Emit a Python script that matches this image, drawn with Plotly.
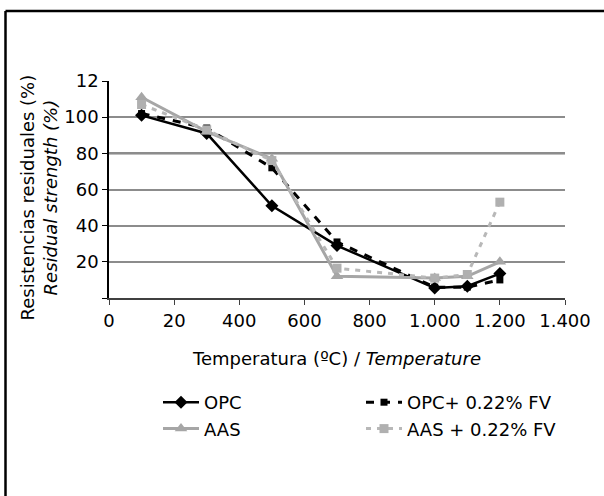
import plotly.graph_objects as go

temps = [100, 300, 500, 700, 1000, 1100, 1200]
opc = [101, 91, 51, 29, 5.5, 6.5, 13.5]
opc_fv = [102, 94, 72, 31, 6, 6, 10]
aas = [111, 92, 77, 12, 11, 12, 20]
aas_fv = [107, 93, 76, 16.5, 11, 13, 53]

x_tickvals = [0, 200, 400, 600, 800, 1000, 1200, 1400]
x_ticktext = ["0", "20", "400", "600", "800", "1.000", "1.200", "1.400"]
y_tickvals = [0, 20, 40, 60, 80, 100, 120]
y_ticktext = ["", "20", "40", "60", "80", "100", "12"]

FONT = "DejaVu Sans"

fig = go.Figure()
fig.add_trace(go.Scatter(x=temps, y=opc, name="OPC", mode="lines+markers",
                         line=dict(color="black", width=2.5),
                         marker=dict(symbol="diamond", size=10, color="black")))
fig.add_trace(go.Scatter(x=temps, y=opc_fv, name="OPC+ 0.22% FV", mode="lines+markers",
                         line=dict(color="black", width=3, dash="8px,8px"),
                         marker=dict(symbol="square", size=7, color="black")))
fig.add_trace(go.Scatter(x=temps, y=aas, name="AAS", mode="lines+markers",
                         line=dict(color="#a6a6a6", width=3),
                         marker=dict(symbol="triangle-up", size=11, color="#a6a6a6")))
fig.add_trace(go.Scatter(x=temps, y=aas_fv, name="AAS + 0.22% FV", mode="lines+markers",
                         line=dict(color="#b8b8b8", width=3, dash="5px,6px"),
                         marker=dict(symbol="square", size=9, color="#b0b0b0")))

L, R, T, B = 109, 39, 81, 198
W, H = 604, 496
pw, ph = W - L - R, H - T - B

def px(xp):
    return (xp - L) / pw

def py(yp):
    return (H - B - yp) / ph

fig.update_layout(
    width=W, height=H,
    margin=dict(l=L, r=R, t=T, b=B),
    paper_bgcolor="white", plot_bgcolor="white",
    font=dict(family=FONT, size=18, color="black"),
    showlegend=True,
    legend=dict(orientation="h", x=px(158), xanchor="left", y=py(384), yanchor="top",
                entrywidth=152, entrywidthmode="pixels", tracegroupgap=0,
                itemwidth=36,
                font=dict(size=18), bgcolor="rgba(0,0,0,0)"),
    xaxis=dict(range=[0, 1400], tickvals=x_tickvals, ticktext=x_ticktext,
               showgrid=False, zeroline=False, showline=True, linecolor="#404040",
               linewidth=1.5, ticks="outside", ticklen=5, tickcolor="#404040",
               ticklabelstandoff=1,
               title=dict(text="Temperatura (ºC) / <i>Temperature</i>", standoff=22,
                          font=dict(size=18))),
    yaxis=dict(range=[0, 120], tickvals=y_tickvals, ticktext=y_ticktext,
               showgrid=True, gridcolor="#8c8c8c", gridwidth=2, zeroline=False,
               showline=True, linecolor="black", linewidth=1.5,
               ticks="outside", ticklen=5, tickcolor="black"),
    annotations=[dict(text="Resistencias residuales (%)<br><i>Residual strength (%)</i>",
                      xref="paper", yref="paper", x=px(38.5), y=py(198),
                      xanchor="center", yanchor="middle", textangle=-90,
                      showarrow=False, font=dict(size=18))],
    shapes=[
        dict(type="line", xref="paper", yref="y", x0=0, x1=1, y0=80, y1=80,
             line=dict(color="black", width=2), layer="below"),
        dict(type="line", xref="paper", yref="paper", x0=px(5.5), x1=px(620),
             y0=py(11), y1=py(11), line=dict(color="black", width=2.5)),
        dict(type="line", xref="paper", yref="paper", x0=px(5.5), x1=px(5.5),
             y0=py(11), y1=py(520), line=dict(color="black", width=2.5)),
    ],
)

fig.write_html("out.html", config={"displayModeBar": False},
               post_script="document.body.style.margin='0px';")
